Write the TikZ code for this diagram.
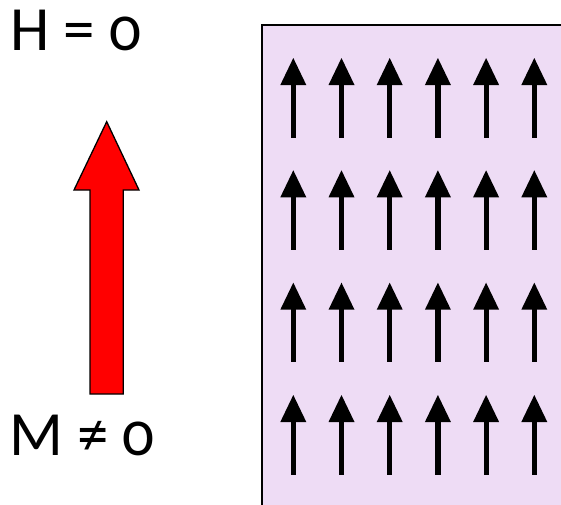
\documentclass[tikz,border=0pt]{standalone}
\usepackage{fontspec}
\setmainfont[Numbers=OldStyle]{Carlito}
\definecolor{lav}{RGB}{238,220,245}
\tikzset{
  lbl/.style={inner sep=0pt, anchor=base west, font=\fontsize{63}{70}\selectfont},
  bigarrow/.style={fill=red, draw=black, line width=1.3pt, line join=miter}
}
\begin{document}
\begin{tikzpicture}[x=1pt,y=-1pt]
\useasboundingbox (0,0) rectangle (561,504);
\begin{scope}
\clip (0,0) rectangle (561,504);
\draw[fill=lav, line width=2.8pt] (262,25) rectangle (580,530);
\foreach \r in {58,170.3,282.7,395}{
  \foreach \c in {293.3,341.5,389.7,437.9,486.1,534.3}{
    \fill (\c,\r) -- (\c+13,\r+27) -- (\c-13,\r+27) -- cycle;
    \fill (\c-2.6,\r+26) rectangle (\c+2.6,\r+79.5);
  }
}
\end{scope}
\draw[bigarrow] (106.7,121.7) -- (139,190) -- (123.3,190) -- (123.3,394) -- (90,394) -- (90,190) -- (74,190) -- cycle;
\node[lbl] (h) at (10,50) {H = 0};
\node[lbl] (m) at (9,455) {M ≠ 0};
\end{tikzpicture}
\end{document}
